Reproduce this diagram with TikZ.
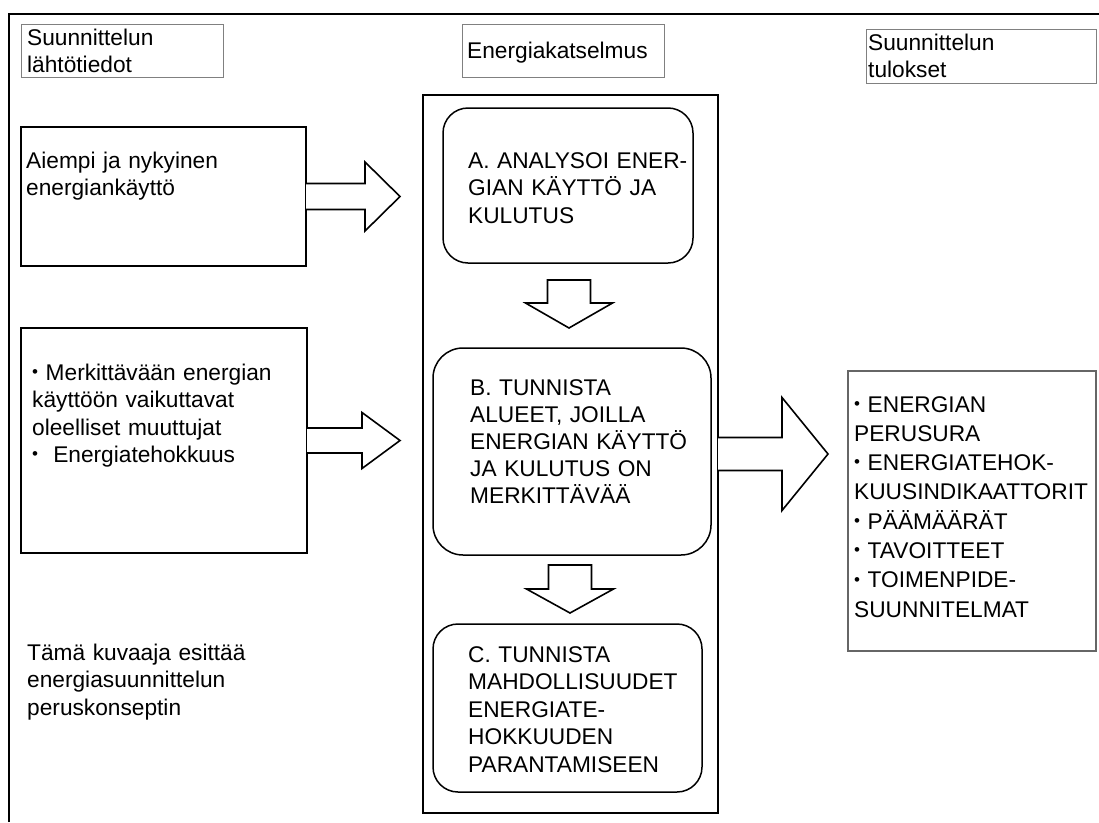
\documentclass[tikz,border=0pt]{standalone}
\usepackage{fontspec}
\setmainfont{Liberation Sans}
\usetikzlibrary{calc}

\newcommand{\dotmark}{\raisebox{0.12em}{\scalebox{0.75}{•}}}
% block arrow: [closing], origin, rotation, shaft half width, shaft length, head half width, head length
\newcommand{\blockarrow}[7][]{%
  \draw[block arrow, shift={(#2)}, rotate=#3]
    (0,#4) -- (#5,#4) -- (#5,#6) -- (#5+#7,0) -- (#5,-#6) -- (#5,-#4) -- (0,-#4) #1;}

\tikzset{
  frame line/.style={line width=2pt},
  title box/.style={draw=black!50, line width=1pt, anchor=north west,
    inner sep=0pt, outer sep=0pt},
  input box/.style={draw, line width=1.7pt, anchor=north west,
    inner sep=0pt, outer sep=0pt},
  step box/.style={draw, line width=1.5pt, rounded corners=25pt,
    anchor=north west, inner sep=0pt, outer sep=0pt},
  result box/.style={draw=black!60, line width=1.2pt, anchor=north west,
    inner sep=0pt, outer sep=0pt},
  box text/.style={anchor=base west, inner sep=0pt, align=left,
    text width=#1, text=black,
    font=\fontsize{22.7}{27.5}\selectfont},
  block arrow/.style={draw, fill=white, line width=1.6pt, line join=miter}
}

\begin{document}
\begin{tikzpicture}[x=1pt,y=-1pt]
  \useasboundingbox (0,0) rectangle (1099,822);

  % outer frame (top and left edge)
  \draw[frame line] (9,822) -- (9,14) -- (1099,14);

  % column titles
  \node[title box, minimum width=202, minimum height=53] (hdrIn) at (21,24) {};
  \node[title box, minimum width=202, minimum height=53] (hdrAudit) at (462,24) {};
  \node[title box, minimum width=230, minimum height=54] (hdrOut) at (866,29) {};
  \node[box text=190] (hdrInText) at (27,45) {Suunnittelun\\lähtötiedot};
  \node[box text=195] (hdrAuditText) at (467,58) {Energiakatselmus};
  \node[box text=225] (hdrOutText) at (868,50) {Suunnittelun\\tulokset};

  % inputs
  \node[input box, minimum width=285, minimum height=139] (inA) at (21,127) {};
  \node[input box, minimum width=286, minimum height=225] (inB) at (21,328) {};
  \node[box text=275] (inAText) at (26,168) {Aiempi ja nykyinen\\energiankäyttö};
  \node[box text=275] (inBText) at (32,380)
    {\dotmark\ Merkittävään energian\\käyttöön vaikuttavat\\oleelliset muuttujat\\\dotmark\ \ Energiatehokkuus};
  \node[box text=260] (note) at (27,660)
    {Tämä kuvaaja esittää\\energiasuunnittelun\\peruskonseptin};

  % energy audit steps
  \node[input box, minimum width=295, minimum height=718] (audit) at (423,95) {};
  \node[step box, minimum width=250, minimum height=155] (stepA) at (443,108) {};
  \node[step box, minimum width=278, minimum height=207, rounded corners=30pt] (stepB) at (433,348) {};
  \node[step box, minimum width=269, minimum height=168] (stepC) at (433,624) {};
  \node[box text=235] (stepAText) at (468,168)
    {A. ANALYSOI ENER-\\GIAN KÄYTTÖ JA\\KULUTUS};
  \node[box text=240, font=\fontsize{22.7}{27}\selectfont] (stepBText) at (470,395)
    {B. TUNNISTA\\ALUEET, JOILLA\\ENERGIAN KÄYTTÖ\\JA KULUTUS ON\\MERKITTÄVÄÄ};
  \node[box text=235] (stepCText) at (468,662)
    {C. TUNNISTA\\MAHDOLLISUUDET\\ENERGIATE-\\HOKKUUDEN\\PARANTAMISEEN};

  % results
  \node[result box, minimum width=248, minimum height=280] (outBox) at (848,371) {};
  \node[box text=240, font=\fontsize{22.7}{29.3}\selectfont] (outText) at (854,412)
    {\dotmark\ ENERGIAN\\PERUSURA\\\dotmark\ ENERGIATEHOK-\\KUUSINDIKAATTORIT\\\dotmark\ PÄÄMÄÄRÄT\\\dotmark\ TAVOITTEET\\\dotmark\ TOIMENPIDE-\\SUUNNITELMAT};

  % arrows
  \blockarrow{inA.east}{0}{13}{59}{34.5}{35}
  \blockarrow{inB.east}{0}{12.5}{55}{28}{38}
  \blockarrow{audit.east}{0}{16.5}{64}{56.5}{46}
  \blockarrow[-- cycle]{$(stepA.south)+(1,17)$}{-90}{21.5}{23}{43.5}{25}
  \blockarrow[-- cycle]{$(stepB.south)+(-2,10)$}{-90}{21.5}{24}{43.5}{24}
\end{tikzpicture}
\end{document}
